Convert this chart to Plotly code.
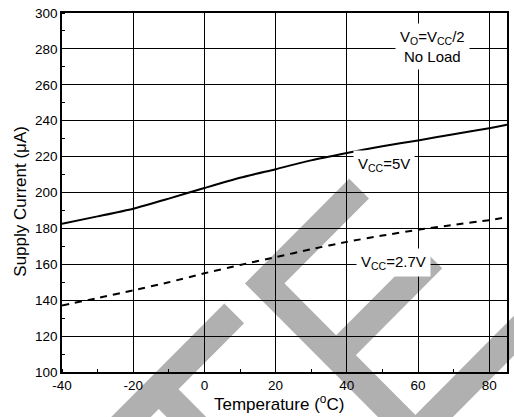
import plotly.graph_objects as go

# Supply current vs. temperature, no load, VO = VCC/2
temperature_c = [-40, -30, -20, -10, 0, 10, 20, 30, 40, 50, 60, 70, 80, 85]
current_vcc_5v = [182.6, 186.7, 191.0, 196.6, 202.5, 208.2, 213.0, 217.9, 222.0,
                  225.8, 229.0, 232.5, 235.8, 237.8]
current_vcc_2v7 = [137.1, 141.2, 145.5, 150.0, 155.0, 159.6, 164.0, 168.4, 172.5,
                   176.0, 179.2, 182.0, 184.6, 186.2]

x_ticks = [-40, -20, 0, 20, 40, 60, 80]
y_ticks = [100, 120, 140, 160, 180, 200, 220, 240, 260, 280, 300]

W, H = 514, 417
ML, MR, MT, MB = 62, 5, 13, 45
PW, PH = W - ML - MR, H - MT - MB
FONT = "Liberation Sans, Arial, sans-serif"


def to_paper(px, py):
    return (px - ML) / PW, (H - MB - py) / PH


def band_path(points):
    parts = []
    for i, (px, py) in enumerate(points):
        x, y = to_paper(px, py)
        parts.append(("M" if i == 0 else "L") + f"{x:.4f},{y:.4f}")
    return " ".join(parts)


# grey background bands (pixel polylines)
bands = [
    [(360.4, 188.6), (265.6, 283.4), (417.0, 434.8), (560.0, 291.7)],
    [(337.4, 355.2), (434.0, 258.5)],
    [(235.0, 313.3), (40.0, 508.3)],
    [(159.2, 389.2), (230.0, 460.0)],
]

fig = go.Figure()

fig.add_trace(go.Scatter(
    x=temperature_c, y=current_vcc_5v, mode="lines",
    line=dict(color="black", width=2, shape="spline", smoothing=0.6),
    name="VCC=5V", showlegend=False, hoverinfo="skip"))
fig.add_trace(go.Scatter(
    x=temperature_c, y=current_vcc_2v7, mode="lines",
    line=dict(color="black", width=2, dash="7px,6px", shape="spline", smoothing=0.6),
    name="VCC=2.7V", showlegend=False, hoverinfo="skip"))

for pts in bands:
    fig.add_shape(type="path", xref="paper", yref="paper", layer="below",
                  path=band_path(pts), line=dict(color="#b0b0b0", width=28),
                  fillcolor="rgba(0,0,0,0)")

label_font = dict(family=FONT, size=15, color="black")
fig.add_annotation(x=64.2, y=281.5, xref="x", yref="y",
                   text="V<sub>O</sub>=V<sub>CC</sub>/2<br>No Load",
                   showarrow=False, bgcolor="white", borderpad=4, font=label_font)
fig.add_annotation(x=50.4, y=215.5, xref="x", yref="y",
                   text="V<sub>CC</sub>=5V",
                   showarrow=False, bgcolor="white", borderpad=4, font=label_font)
fig.add_annotation(x=53.1, y=161.0, xref="x", yref="y",
                   text="V<sub>CC</sub>=2.7V",
                   showarrow=False, bgcolor="white", borderpad=4, font=label_font)

title_font = dict(family=FONT, size=17, color="black")
tx, ty = to_paper(280, 403)
fig.add_annotation(x=tx, y=ty, xref="paper", yref="paper",
                   xanchor="center", yanchor="middle",
                   text="Temperature (<sup>o</sup>C)", showarrow=False,
                   font=title_font)
yx, yy = to_paper(19.5, 201)
fig.add_annotation(x=yx, y=yy, xref="paper", yref="paper",
                   xanchor="center", yanchor="middle",
                   text="Supply Current (\u03bcA)", showarrow=False,
                   textangle=-90, font=title_font)

axis_common = dict(
    showline=True, mirror=True, linecolor="black", linewidth=1.5,
    showgrid=True, gridcolor="black", gridwidth=1, zeroline=False,
    ticks="", tickfont=dict(family=FONT, size=13.5, color="black"),
    minor=dict(ticks="inside", ticklen=3, tickcolor="black", tickwidth=1,
               dtick=10, showgrid=False),
)

fig.update_xaxes(range=[-40, 85], tickvals=x_ticks,
                 ticktext=[str(v) for v in x_ticks], **axis_common)
fig.update_yaxes(range=[100, 300], tickvals=y_ticks,
                 ticktext=[str(v) for v in y_ticks], **axis_common)

fig.update_layout(
    width=W, height=H,
    margin=dict(l=ML, r=MR, t=MT, b=MB, pad=0),
    paper_bgcolor="white", plot_bgcolor="rgba(0,0,0,0)",
    showlegend=False,
    font=dict(family=FONT, color="black"),
)

fig.write_html("out.html")
